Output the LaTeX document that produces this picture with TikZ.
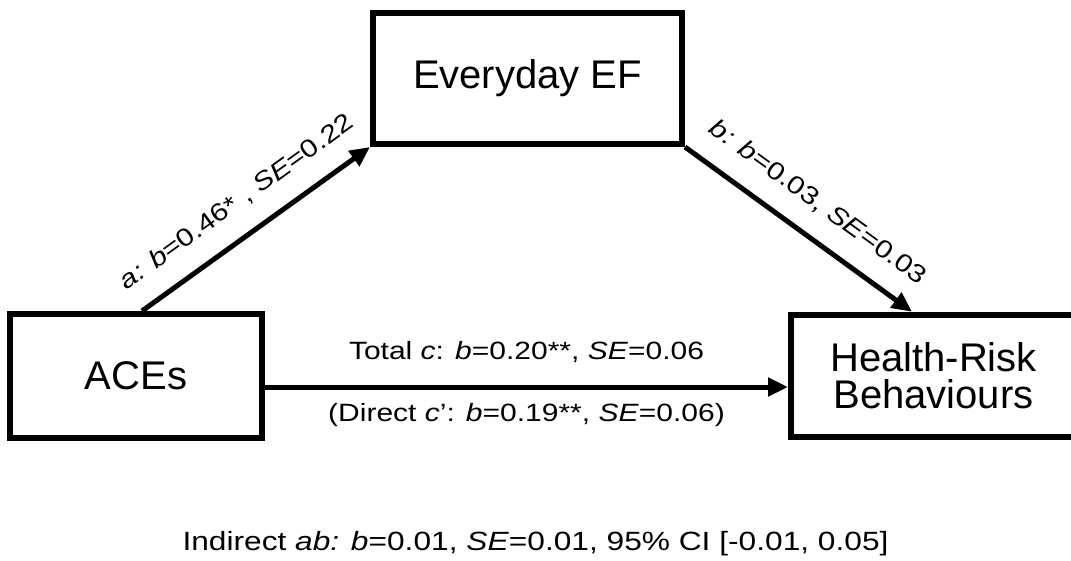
\documentclass[tikz,border=0pt]{standalone}
\usepackage{fontspec}
\setmainfont{Liberation Sans}
\newfontfamily\labelfont[FakeStretch=1.2]{Liberation Sans}
\usetikzlibrary{arrows.meta,positioning}

\begin{document}
\begin{tikzpicture}[
x=0.5pt, y=-0.5pt,
box/.style={draw, line width=3pt, align=center, inner sep=0pt, font=\fontsize{20pt}{18.5pt}\selectfont},
lbl/.style={inner sep=0pt, font=\labelfont\fontsize{12.5pt}{15pt}\selectfont},
arr/.style={-{Triangle[length=10pt, width=9pt]}, line width=2.5pt}
]
\useasboundingbox (0,0) rectangle (1071,561);
\node[box, minimum width=154.5pt, minimum height=65.5pt] (ef) at (527.5,78.5) {Everyday EF};
\node[box, minimum width=126pt, minimum height=62pt, on grid, below left=148.75pt and 195.75pt of ef] (aces) {ACEs};
\node[box, minimum width=142.5pt, minimum height=61.25pt, on grid, below right=148.75pt and 203pt of ef] (hrb) {Health-Risk\\Behaviours};
\draw[arr] ([xshift=3pt]aces.north) -- node[lbl, sloped, above=10pt] (pa) {\textit{a:} \textit{b}=0.46* , \textit{SE}=0.22} (ef.south west);
\draw[arr] (ef.south east) -- node[lbl, sloped, above=10pt] (pb) {\textit{b:} \textit{b}=0.03, \textit{SE}=0.03} ([xshift=-10.75pt]hrb.north);
\draw[arr] ([yshift=-5.5pt]aces.east) -- node[lbl, above=11pt] (pc) {Total \textit{c}: \textit{b}=0.20**, \textit{SE}=0.06} node[lbl, below=7pt] (pcd) {(Direct \textit{c}’: \textit{b}=0.19**, \textit{SE}=0.06)} ([yshift=-5.5pt]hrb.west);
\node[lbl, anchor=base, font=\labelfont\fontsize{13.2pt}{15pt}\selectfont] (note) at (535.5,550) {Indirect \textit{ab:} \textit{b}=0.01, \textit{SE}=0.01, 95\% CI [-0.01, 0.05]};
\end{tikzpicture}
\end{document}
